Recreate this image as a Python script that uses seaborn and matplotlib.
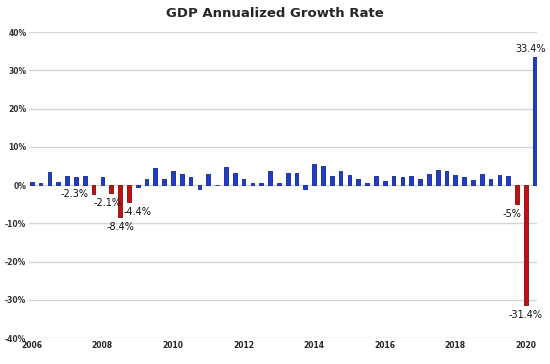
import matplotlib
matplotlib.use('Agg')
import matplotlib.pyplot as plt
import pandas as pd
import seaborn as sns

# Quarterly real GDP growth, annualized (%), 2006 Q2 .. 2020 Q3
quarters = ['%dQ%d' % (y, q) for y in range(2006, 2021) for q in range(1, 5)][1:59]
growth = [0.9, 0.6, 3.5, 0.9, 2.3, 2.2, 2.5,
          -2.3, 2.1, -2.1, -8.4,
          -4.4, -0.6, 1.5, 4.5,
          1.5, 3.7, 3.0, 2.0,
          -1.0, 2.9, -0.1, 4.7,
          3.2, 1.7, 0.5, 0.5,
          3.6, 0.5, 3.2, 3.2,
          -1.1, 5.5, 5.0, 2.3,
          3.8, 2.7, 1.5, 0.6,
          2.4, 1.2, 2.3, 2.2,
          2.5, 1.7, 2.9, 3.9,
          3.8, 2.7, 2.1, 1.3,
          2.9, 1.5, 2.6, 2.4,
          -5.0, -31.4, 33.4]
recession = ['2008Q1', '2008Q3', '2008Q4', '2009Q1', '2020Q1', '2020Q2']
year_labels = [str(y) for y in range(2006, 2021, 2)]

# labelled bars: quarter -> (dx, dy) offset in points
labelled = {'2008Q1': (-14, 0), '2008Q3': (-3, -7), '2008Q4': (0, -7),
            '2009Q1': (6, -7), '2020Q1': (-4, -7), '2020Q2': (0, -7),
            '2020Q3': (-3, 6)}

df = pd.DataFrame({'quarter': quarters, 'growth': growth})
df['kind'] = df['quarter'].isin(recession).map({True: 'rec', False: 'norm'})

sns.set_style('white')
fig = plt.figure(figsize=(5.5, 3.64), dpi=100)
ax = fig.add_axes([0.053, 0.071, 0.924, 0.841])

sns.barplot(data=df, x='quarter', y='growth', hue='kind', dodge=False,
            palette={'norm': '#1f3fc8', 'rec': '#c01212'}, width=0.42,
            legend=False, ax=ax, linewidth=0.6, saturation=1)
for p in ax.patches:
    fc = p.get_facecolor()
    p.set_edgecolor('#0d2290' if fc[2] > 0.5 else '#8a0808')

ax.set_ylim(-40, 40)
ax.set_yticks(range(-40, 41, 10))
ax.set_yticklabels(['%d%%' % v for v in range(-40, 41, 10)],
                   fontsize=5.5, fontweight='bold', color='#333333')
ax.set_xlim(-0.3, 57.3)
ax.set_xticks(range(0, 58, 8))
ax.set_xticklabels(year_labels, fontsize=5.5, fontweight='bold')
ax.tick_params(axis='both', length=0, pad=2)
ax.set_xlabel('')
ax.set_ylabel('')
ax.grid(axis='y', color='#d6d6d6', linewidth=1)
ax.set_axisbelow(True)
for s in ax.spines.values():
    s.set_visible(False)

for i, (q, v) in enumerate(zip(quarters, growth)):
    if q in labelled:
        dx, dy = labelled[q]
        ax.annotate('%g%%' % v, (i, v), xytext=(dx, dy), textcoords='offset points',
                    ha='center', va='center', fontsize=7, color='#111111')

fig.suptitle('GDP Annualized Growth Rate', x=0.5, y=0.98, fontsize=9.5,
             fontweight='bold')
fig.savefig('out.png', dpi=100)
